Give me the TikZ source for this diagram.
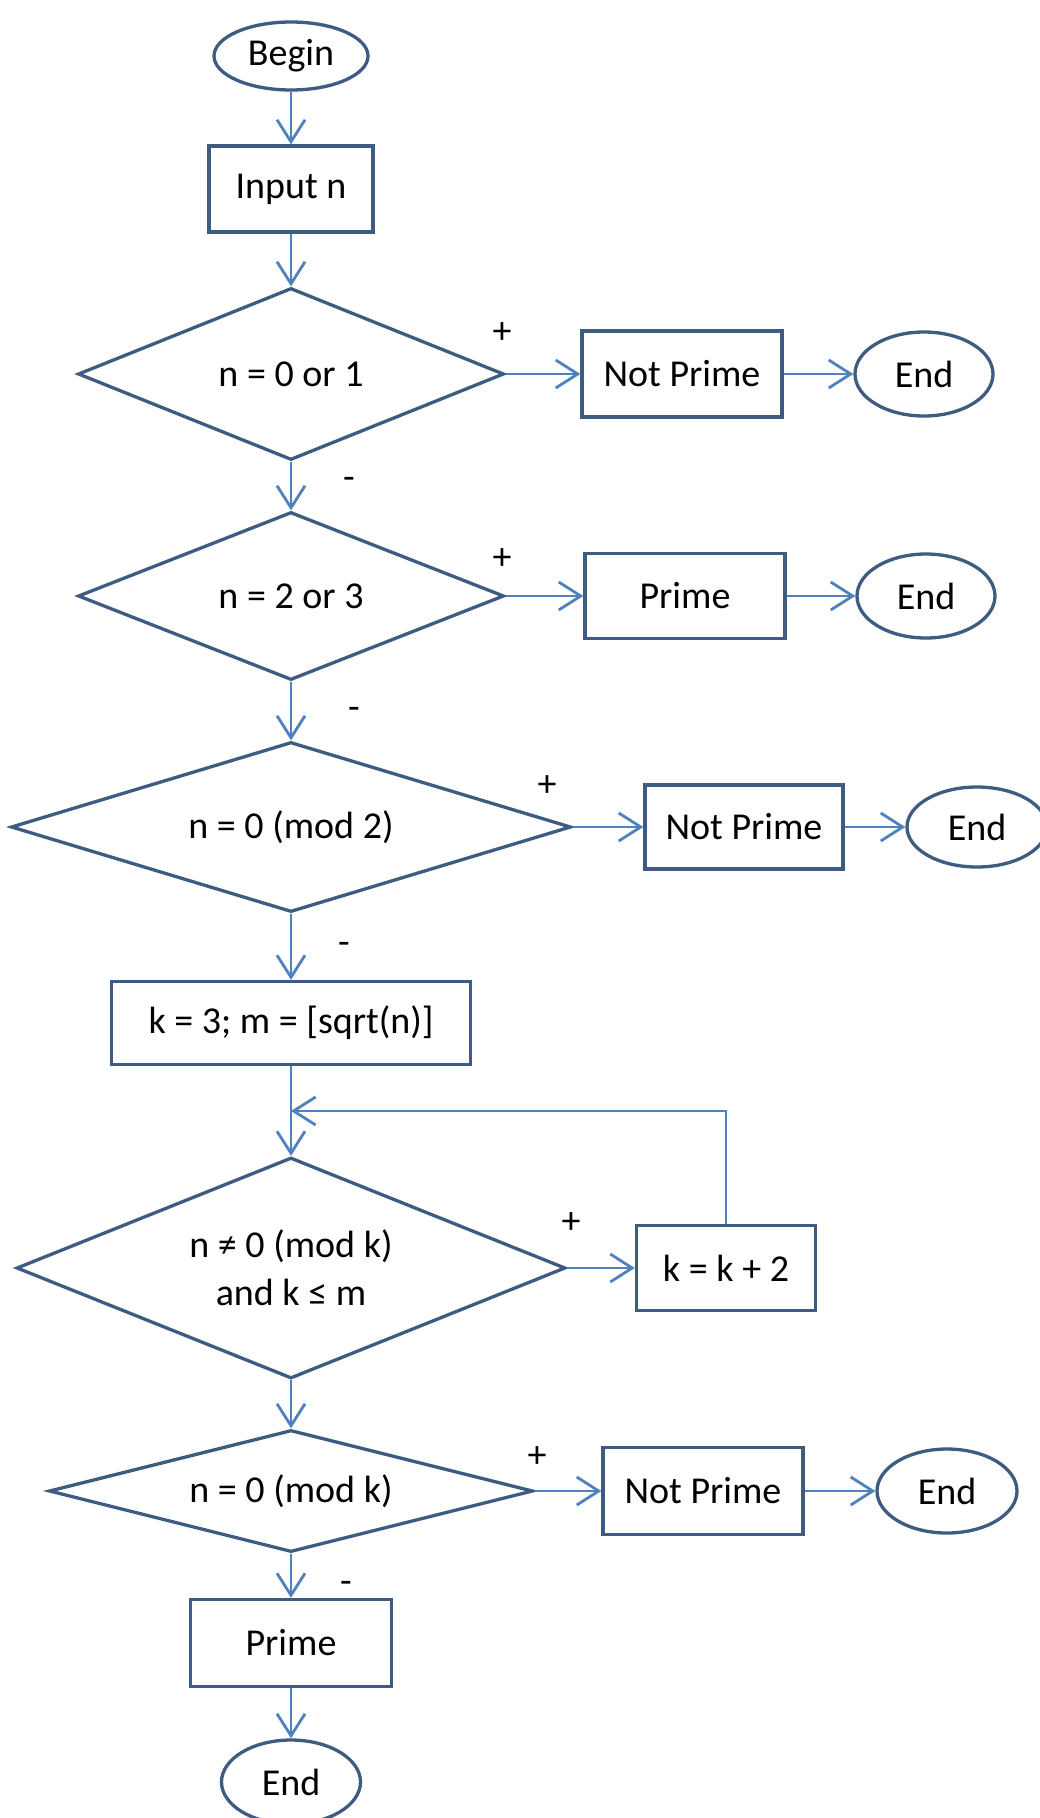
\documentclass[tikz,border=0pt]{standalone}
\usepackage{fontspec}
\setmainfont{Carlito}
\usetikzlibrary{shapes.geometric,arrows.meta}
\definecolor{linec}{RGB}{79,129,189}
\definecolor{shapec}{RGB}{62,92,130}
\begin{document}
\begin{tikzpicture}[x=1pt,y=-1pt,
  every node/.style={font=\fontsize{38}{48}\selectfont, text=black},
  box/.style={draw=shapec, line width=3.3pt, rectangle, inner sep=0pt},
  term/.style={draw=shapec, line width=3.3pt, ellipse, inner sep=0pt},
  dec/.style={draw=shapec, line width=3.3pt, diamond, shape aspect=3, inner sep=0pt, align=center},
  arr/.style={draw=linec, line width=2.8pt, -{Straight Barb[length=22pt,width=28pt]}},
  sign/.style={inner sep=0pt}
]
\fill[white] (0,0) rectangle (1040,1818);
\useasboundingbox (0,0) rectangle (1040,1818);

% main column
\node[term, minimum width=154pt, minimum height=68pt] (begin) at (291,56) {Begin};
\node[box, minimum width=164pt, minimum height=86pt] (input) at (291,189) {Input n};
\node[dec, minimum width=426pt, minimum height=172pt] (d1) at (291,374) {n = 0 or 1};
\node[dec, minimum width=426pt, minimum height=168pt] (d2) at (291,596) {n = 2 or 3};
\node[dec, minimum width=560pt, minimum height=170pt] (d3) at (291,827) {n = 0 (mod 2)};
\node[box, minimum width=359pt, minimum height=83pt] (k3) at (291,1023) {k = 3; m = [sqrt(n)]};
\node[dec, minimum width=549pt, minimum height=221pt] (d4) at (291,1268) {n ≠ 0 (mod k)\\and k ≤ m};
\node[dec, minimum width=484pt, minimum height=122pt] (d5) at (291,1491) {n = 0 (mod k)};
\node[box, minimum width=201pt, minimum height=87pt] (pr) at (291,1643) {Prime};
\node[term, minimum width=139pt, minimum height=84pt] (endb) at (291,1782) {End};

% side branches
\node[box, minimum width=200pt, minimum height=86pt] (np1) at (682,374) {Not Prime};
\node[term, minimum width=138pt, minimum height=84pt] (end1) at (924,374) {End};
\node[box, minimum width=200pt, minimum height=85pt] (p2) at (685,596) {Prime};
\node[term, minimum width=138pt, minimum height=84pt] (end2) at (926,596) {End};
\node[box, minimum width=198pt, minimum height=84pt] (np3) at (744,827) {Not Prime};
\node[term, minimum width=140pt, minimum height=80pt] (end3) at (977,827) {End};
\node[box, minimum width=179pt, minimum height=85pt] (k2) at (726,1268) {k = k + 2};
\node[box, minimum width=200pt, minimum height=87pt] (np5) at (703,1491) {Not Prime};
\node[term, minimum width=140pt, minimum height=84pt] (end5) at (947,1491) {End};

\coordinate (j) at (291,1111);

% connectors
\draw[arr] (begin) -- (input);
\draw[arr] (input) -- (d1);
\draw[arr] (d1) -- (d2);
\draw[arr] (d2) -- (d3);
\draw[arr] (d3) -- (k3);
\draw[arr] (k3) -- (d4);
\draw[arr] (d4) -- (d5);
\draw[arr] (d5) -- (pr);
\draw[arr] (pr) -- (endb);

\draw[arr] (d1.east) -- (np1.west);
\draw[arr] (np1.east) -- (end1.west);
\draw[arr] (d2.east) -- (p2.west);
\draw[arr] (p2.east) -- (end2.west);
\draw[arr] (d3.east) -- (np3.west);
\draw[arr] (np3.east) -- (end3.west);
\draw[arr] (d4.east) -- (k2.west);
\draw[arr] (k2.north) |- (j);
\draw[arr] (d5.east) -- (np5.west);
\draw[arr] (np5.east) -- (end5.west);

% signs
\node[sign] (s1) at (502,333) {+};
\node[sign] (s2) at (502,559) {+};
\node[sign] (s3) at (547,786) {+};
\node[sign] (s4) at (571,1223) {+};
\node[sign] (s5) at (537,1457) {+};
\node[sign] (m1) at (349,483) {-};
\node[sign] (m2) at (354,713) {-};
\node[sign] (m3) at (344,948) {-};
\node[sign] (m4) at (346,1587) {-};
\end{tikzpicture}
\end{document}
